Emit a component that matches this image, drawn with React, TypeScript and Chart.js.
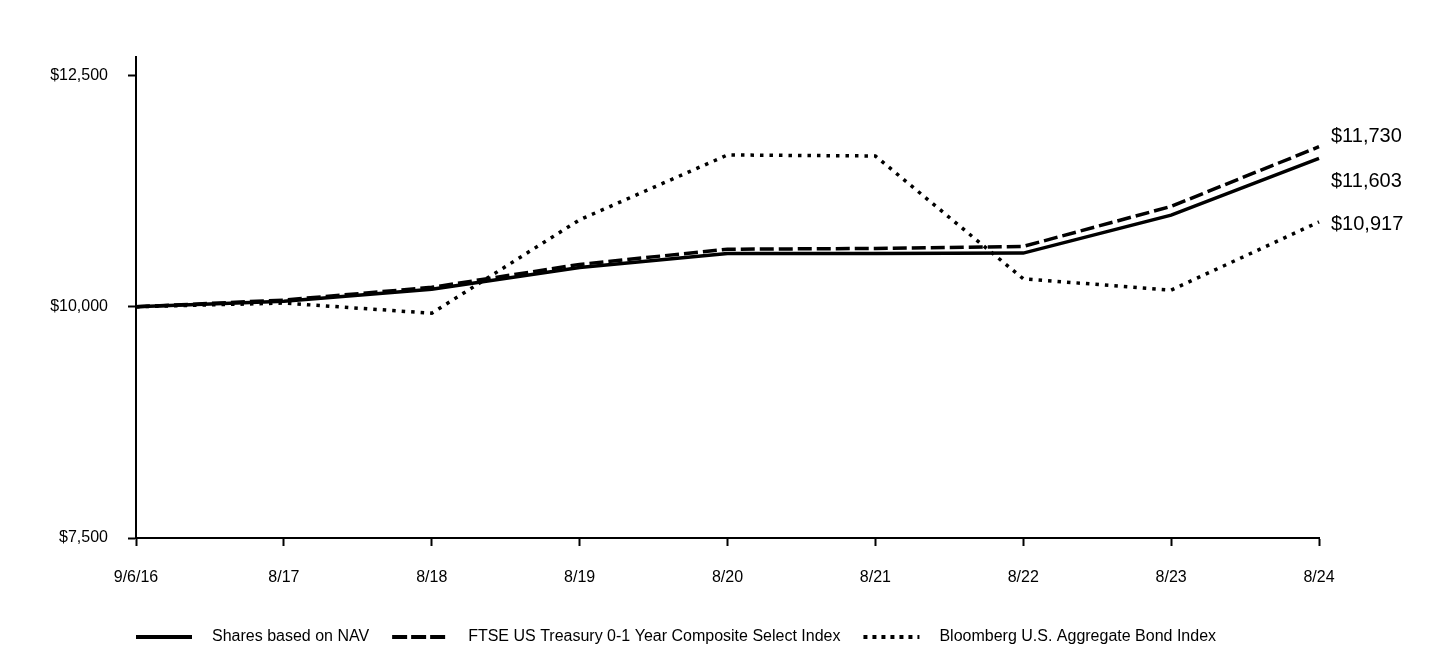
import React, { useEffect, useRef } from "react";
import { Chart, registerables } from "chart.js";

Chart.register(...registerables);

const categories = ["9/6/16", "8/17", "8/18", "8/19", "8/20", "8/21", "8/22", "8/23", "8/24"];
const navValues = [10000, 10060, 10190, 10425, 10575, 10575, 10580, 10990, 11603];
const ftseValues = [10000, 10072, 10210, 10458, 10622, 10630, 10652, 11085, 11730];
const bbgValues = [10000, 10040, 9930, 10940, 11641, 11630, 10302, 10180, 10917];
const yTickValues = [7500, 10000, 12500];
const seriesNames = [
  "Shares based on NAV",
  "FTSE US Treasury 0-1 Year Composite Select Index",
  "Bloomberg U.S. Aggregate Bond Index",
];

const FONT = "'Liberation Sans', Arial, Helvetica, sans-serif";

const fmt = (v: number) => "$" + v.toLocaleString("en-US");

const endLabelPlugin = {
  id: "endLabels",
  afterDatasetsDraw(chart: any) {
    const ctx = chart.ctx;
    const offsets = [23, -10, 3];
    ctx.save();
    ctx.font = `20px ${FONT}`;
    ctx.fillStyle = "#000";
    ctx.textAlign = "left";
    ctx.textBaseline = "middle";
    chart.data.datasets.forEach((ds: any, i: number) => {
      const meta = chart.getDatasetMeta(i);
      const pt = meta.data[meta.data.length - 1];
      const v = ds.data[ds.data.length - 1];
      ctx.fillText(fmt(v), pt.x + 12, pt.y + offsets[i]);
    });
    ctx.restore();
  },
};

const legendPlugin = {
  id: "customLegend",
  afterDraw(chart: any) {
    const ctx = chart.ctx;
    const y = 637;
    let x = chart.chartArea.left;
    const lineLen = 56;
    ctx.save();
    ctx.font = `16px ${FONT}`;
    ctx.fillStyle = "#000";
    ctx.textBaseline = "middle";
    ctx.textAlign = "left";
    chart.data.datasets.forEach((ds: any) => {
      ctx.beginPath();
      ctx.strokeStyle = "#000";
      ctx.lineWidth = 4;
      ctx.lineCap = "butt";
      ctx.setLineDash(ds.legendDash || []);
      ctx.moveTo(x, y);
      ctx.lineTo(x + lineLen, y);
      ctx.stroke();
      ctx.setLineDash([]);
      x += lineLen + 20;
      ctx.fillText(ds.label, x, y);
      x += ctx.measureText(ds.label).width + 23;
    });
    ctx.restore();
  },
};

export default function App() {
  const canvasRef = useRef<HTMLCanvasElement | null>(null);

  useEffect(() => {
    document.body.style.margin = "0";
    const canvas = canvasRef.current;
    if (!canvas) return;
    const chart = new Chart(canvas, {
      type: "line",
      data: {
        labels: categories,
        datasets: [
          {
            label: seriesNames[0],
            data: navValues,
            borderColor: "#000",
            borderWidth: 3.5,
            pointRadius: 0,
            tension: 0,
            legendDash: [],
          } as any,
          {
            label: seriesNames[1],
            data: ftseValues,
            borderColor: "#000",
            borderWidth: 3.5,
            borderDash: [14, 5],
            pointRadius: 0,
            tension: 0,
            legendDash: [15, 4],
          } as any,
          {
            label: seriesNames[2],
            data: bbgValues,
            borderColor: "#000",
            borderWidth: 3.5,
            borderDash: [3.5, 6],
            pointRadius: 0,
            tension: 0,
            legendDash: [4, 5],
          } as any,
        ],
      },
      options: {
        animation: false,
        responsive: false,
        maintainAspectRatio: false,
        layout: { padding: { top: 57, right: 121, left: 0, bottom: 0 } },
        plugins: {
          legend: { display: false },
          tooltip: { enabled: false },
        },
        scales: {
          x: {
            type: "category",
            offset: false,
            grid: {
              drawOnChartArea: false,
              drawTicks: true,
              tickLength: 8,
              tickWidth: 2,
              tickColor: "#000",
            },
            border: { display: true, color: "#000", width: 2 },
            ticks: {
              color: "#000",
              font: { family: FONT, size: 16 },
              padding: 22,
              maxRotation: 0,
              autoSkip: false,
            },
            afterFit(scale: any) {
              scale.height = 110;
            },
          },
          y: {
            min: 7500,
            max: 12700,
            grid: {
              drawOnChartArea: false,
              drawTicks: true,
              tickLength: 8,
              tickWidth: 2,
              tickColor: "#000",
            },
            border: { display: true, color: "#000", width: 2 },
            ticks: {
              color: "#000",
              font: { family: FONT, size: 16 },
              padding: 20,
              callback: (v: any) => fmt(Number(v)),
            },
            afterBuildTicks(scale: any) {
              scale.ticks = yTickValues.map((v) => ({ value: v }));
            },
            afterFit(scale: any) {
              scale.width = 136;
            },
          },
        },
      },
      plugins: [endLabelPlugin, legendPlugin],
    });
    return () => chart.destroy();
  }, []);

  return (
    <div style={{ width: 1440, height: 648 }}>
      <canvas ref={canvasRef} width={1440} height={648} style={{ display: "block" }} />
    </div>
  );
}
